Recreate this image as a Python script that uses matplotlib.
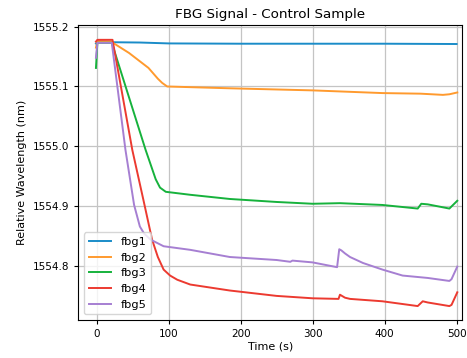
import matplotlib
matplotlib.use("Agg")
import matplotlib.pyplot as plt

# breakpoints (time in s, wavelength in nm)
t1 = [-1, 1, 20, 60, 100, 200, 300, 400, 500]
fbg1 = [1555.172, 1555.174, 1555.174, 1555.1735, 1555.172, 1555.1715, 1555.1715, 1555.1715, 1555.171]

t2 = [-1, 1, 20, 45, 72, 85, 91, 98, 185, 300, 397, 450, 481, 490, 501]
fbg2 = [1555.165, 1555.176, 1555.175, 1555.156, 1555.131, 1555.113, 1555.106, 1555.100,
        1555.097, 1555.0935, 1555.089, 1555.088, 1555.086, 1555.087, 1555.090]

t3 = [-1, 1, 21, 68, 76, 82, 88, 96, 130, 185, 250, 300, 338, 397, 446, 451, 460, 490, 501]
fbg3 = [1555.131, 1555.173, 1555.173, 1554.994, 1554.966, 1554.945, 1554.931, 1554.924,
        1554.919, 1554.912, 1554.907, 1554.904, 1554.905, 1554.902, 1554.896, 1554.904,
        1554.903, 1554.896, 1554.909]

t4 = [-1, 1, 22, 49.5, 65, 77, 85, 93, 102, 112, 130, 185, 250, 300, 336, 338, 345, 352,
      397, 446, 453, 460, 490, 493, 501]
fbg4 = [1555.175, 1555.178, 1555.178, 1554.994, 1554.910, 1554.844, 1554.815, 1554.794,
        1554.784, 1554.777, 1554.769, 1554.759, 1554.750, 1554.746, 1554.745, 1554.752,
        1554.747, 1554.745, 1554.741, 1554.733, 1554.741, 1554.739, 1554.733, 1554.735,
        1554.756]

t5 = [-1, 1, 21, 40, 52, 60, 66, 75, 93, 130, 185, 250, 269, 272, 300, 334, 337, 340, 345,
      352, 370, 397, 425, 460, 490, 493, 501]
fbg5 = [1555.148, 1555.173, 1555.173, 1554.994, 1554.902, 1554.866, 1554.854, 1554.844,
        1554.833, 1554.827, 1554.815, 1554.810, 1554.807, 1554.809, 1554.806, 1554.798,
        1554.828, 1554.826, 1554.821, 1554.815, 1554.805, 1554.794, 1554.784, 1554.780,
        1554.775, 1554.778, 1554.799]

series = [("fbg1", t1, fbg1, "#1a8cc8"),
          ("fbg2", t2, fbg2, "#ff9a2e"),
          ("fbg3", t3, fbg3, "#16b23c"),
          ("fbg4", t4, fbg4, "#ec3a30"),
          ("fbg5", t5, fbg5, "#a67fd2")]

fig = plt.figure(figsize=(4.67, 3.58), dpi=100)
ax = fig.add_axes([0.1677, 0.1061, 0.8223, 0.8241])
for name, t, y, color in series:
    ax.plot(t, y, color=color, lw=1.4, label=name)

ax.set_xlim(-25.5, 508)
ax.set_ylim(1554.7097, 1555.2028)
ax.set_xticks([0, 100, 200, 300, 400, 500])
ax.set_yticks([1554.8, 1554.9, 1555.0, 1555.1, 1555.2])
ax.grid(True, color="#c4c4c4", lw=0.9)
ax.set_axisbelow(True)
ax.tick_params(labelsize=7.5, length=3)
ax.set_xlabel("Time (s)", fontsize=8, labelpad=2)
ax.set_ylabel("Relative Wavelength (nm)", fontsize=8)
ax.set_title("FBG Signal - Control Sample", fontsize=9.7, pad=5)
ax.legend(loc="lower left", fontsize=8.2)

fig.savefig("out.png", dpi=100)
